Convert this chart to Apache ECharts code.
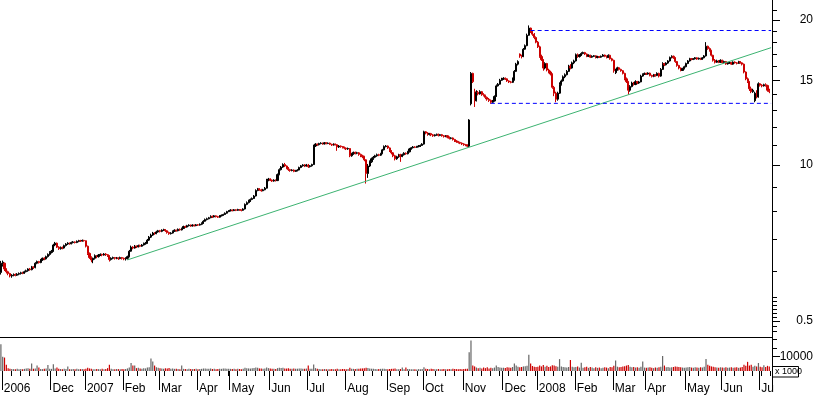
<!DOCTYPE html>
<html><head><meta charset="utf-8">
<script src="https://cdn.jsdelivr.net/npm/echarts@6/dist/echarts.min.js"></script>
<style>html,body{margin:0;padding:0;background:#fff}#c{width:817px;height:395px}</style>
</head><body><div id="c"></div>
<script>
// ---- axis labels / ticks ----
const monthLabels = ['2006','Dec','2007','Feb','Mar','Apr','May','Jun','Jul','Aug','Sep','Oct','Nov','Dec','2008','Feb','Mar','Apr','May','Jun','Ju'];
const monthStart  = [1,28,47,68,88,109,127,149,170,191,214,234,256,278,297,318,339,357,379,399,420];
const priceTicksMajor = [20, 15, 10, 4.743];
const priceTicksMinor = [21,19,18,17,16,14,13,12,11,9,8,7,6,5.318,5.218,5.119,5.022,4.927,4.834,4.631,4.521];
const priceMin = 4.391, priceMax = 22.02;
const volTicksMajor = [10000];
const volTicksMinor = [16000, 21900];
const volMax = 23750;
// ---- drawn lines: [day index, price] ----
const trendLine  = [[70, 6.35], [426, 17.53]];
const resistance = [[293, 19.03], [426, 19.03]];
const support    = [[271, 13.43], [426, 13.43]];

// ---- daily candles [open, close, low, high] ----
const ohlc2006a = [[5.98,6.25,5.92,6.32],[6.22,6.28,6.15,6.33],[6.25,6.08,6.02,6.27],[6.08,6.00,5.95,6.10],[6.00,5.95,5.90,6.03],[5.95,5.88,5.84,5.97],[5.88,5.90,5.83,5.93],[5.90,5.92,5.87,5.95],[5.92,5.90,5.87,5.95],[5.90,5.93,5.88,5.96],[5.93,5.95,5.90,5.98],[5.95,5.97,5.92,6.00],[5.97,5.96,5.93,6.00],[5.96,6.00,5.94,6.03],[6.00,6.03,5.98,6.06],[6.03,6.08,6.00,6.10],[6.08,6.06,6.03,6.11],[6.06,6.14,6.04,6.17],[6.14,6.12,6.08,6.16],[6.12,6.25,6.10,6.28],[6.25,6.30,6.22,6.33],[6.30,6.27,6.24,6.32],[6.27,6.35,6.25,6.38],[6.35,6.40,6.32,6.42],[6.40,6.38,6.34,6.43],[6.38,6.45,6.36,6.48],[6.45,6.52,6.42,6.55],[6.52,6.58,6.48,6.62]];
const ohlc2006b = [[6.58,6.62,6.55,6.66],[6.62,6.82,6.60,6.86],[6.82,6.88,6.78,6.92],[6.88,6.75,6.72,6.90],[6.75,6.70,6.66,6.78],[6.70,6.74,6.67,6.77],[6.74,6.72,6.68,6.77],[6.72,6.80,6.70,6.83],[6.80,6.85,6.77,6.88],[6.85,6.88,6.82,6.91],[6.88,6.86,6.83,6.90],[6.86,6.90,6.84,6.93],[6.90,6.92,6.87,6.95],[6.92,6.90,6.87,6.94],[6.90,6.94,6.88,6.97],[6.94,6.96,6.91,6.99],[6.96,6.95,6.92,6.99],[6.95,6.97,6.93,7.00],[6.97,6.96,6.93,6.99]];
const ohlc2007a = [[6.96,6.78,6.74,6.97],[6.78,6.55,6.50,6.80],[6.55,6.42,6.38,6.58],[6.42,6.35,6.28,6.46],[6.35,6.40,6.25,6.42],[6.40,6.48,6.36,6.52],[6.48,6.45,6.40,6.50],[6.45,6.50,6.42,6.53],[6.50,6.52,6.47,6.55],[6.52,6.50,6.46,6.54],[6.50,6.53,6.48,6.56],[6.53,6.51,6.47,6.56],[6.51,6.48,6.44,6.53],[6.48,6.36,6.30,6.50],[6.36,6.40,6.33,6.43],[6.40,6.42,6.37,6.45],[6.42,6.40,6.36,6.44],[6.40,6.41,6.37,6.44],[6.41,6.39,6.35,6.43],[6.39,6.42,6.37,6.45],[6.42,6.40,6.36,6.44]];
const ohlc2007b = [[6.40,6.38,6.34,6.42],[6.38,6.40,6.33,6.43],[6.40,6.45,6.36,6.48],[6.45,6.62,6.43,6.66],[6.62,6.75,6.60,6.80],[6.75,6.72,6.68,6.78],[6.72,6.78,6.70,6.82],[6.78,6.76,6.72,6.80],[6.76,6.80,6.74,6.83],[6.80,6.78,6.75,6.83],[6.78,6.82,6.76,6.85],[6.82,6.86,6.80,6.90],[6.86,6.88,6.83,6.92],[6.88,6.98,6.86,7.02],[6.98,7.08,6.95,7.12],[7.08,7.15,7.05,7.20],[7.15,7.22,7.12,7.26],[7.22,7.20,7.16,7.25],[7.20,7.26,7.18,7.30],[7.26,7.30,7.23,7.33]];
const ohlc2007c = [[7.30,7.28,7.24,7.33],[7.28,7.32,7.25,7.35],[7.32,7.34,7.29,7.37],[7.34,7.30,7.26,7.36],[7.30,7.24,7.20,7.32],[7.24,7.20,7.16,7.27],[7.20,7.22,7.17,7.25],[7.22,7.28,7.20,7.31],[7.28,7.32,7.26,7.35],[7.32,7.30,7.27,7.34],[7.30,7.35,7.28,7.38],[7.35,7.33,7.30,7.38],[7.33,7.38,7.31,7.41],[7.38,7.45,7.36,7.48],[7.45,7.43,7.40,7.48],[7.43,7.48,7.41,7.51],[7.48,7.50,7.45,7.53],[7.50,7.47,7.44,7.52],[7.47,7.50,7.45,7.53],[7.50,7.48,7.45,7.52],[7.48,7.51,7.46,7.54]];
const ohlc2007d = [[7.51,7.50,7.47,7.54],[7.50,7.53,7.48,7.56],[7.53,7.56,7.50,7.60],[7.56,7.64,7.54,7.68],[7.64,7.70,7.62,7.74],[7.70,7.73,7.67,7.77],[7.73,7.77,7.71,7.80],[7.77,7.82,7.75,7.86],[7.82,7.80,7.76,7.85],[7.80,7.84,7.78,7.87],[7.84,7.81,7.78,7.86],[7.81,7.79,7.76,7.84],[7.79,7.84,7.77,7.87],[7.84,7.86,7.82,7.89],[7.86,7.89,7.84,7.92],[7.89,7.94,7.87,7.97],[7.94,8.00,7.92,8.03],[8.00,8.03,7.98,8.06]];
const ohlc2007e = [[8.03,8.06,8.01,8.09],[8.06,8.04,8.01,8.08],[8.04,8.07,8.02,8.10],[8.07,8.05,8.02,8.09],[8.05,8.08,8.03,8.11],[8.08,8.06,8.03,8.10],[8.06,8.05,8.01,8.08],[8.05,8.10,8.03,8.13],[8.10,8.28,8.08,8.32],[8.28,8.35,8.25,8.40],[8.35,8.42,8.32,8.47],[8.42,8.48,8.38,8.52],[8.48,8.52,8.45,8.56],[8.52,8.62,8.50,8.66],[8.62,8.85,8.60,8.90],[8.85,8.92,8.82,8.96],[8.92,8.88,8.84,8.95],[8.88,8.84,8.80,8.92],[8.84,8.88,8.82,8.92],[8.88,8.95,8.86,9.00],[8.95,9.30,8.93,9.36],[9.30,9.35,9.25,9.40]];
const ohlc2007f = [[9.35,9.30,9.26,9.38],[9.30,9.26,9.22,9.33],[9.26,9.30,9.23,9.34],[9.30,9.28,9.24,9.33],[9.28,9.55,9.26,9.60],[9.55,9.78,9.52,9.84],[9.78,9.90,9.74,9.95],[9.90,10.02,9.86,10.08],[10.02,9.95,9.90,10.10],[9.95,9.85,9.80,9.98],[9.85,9.78,9.72,9.90],[9.78,9.74,9.68,9.82],[9.74,9.76,9.70,9.80],[9.76,9.70,9.66,9.79],[9.70,9.73,9.67,9.77],[9.73,9.76,9.70,9.80],[9.76,9.88,9.74,9.92],[9.88,9.96,9.85,10.00],[9.96,10.00,9.92,10.04],[10.00,9.95,9.90,10.04],[9.95,10.00,9.92,10.05]];
const ohlc2007g = [[10.00,9.92,9.86,10.05],[9.92,9.96,9.88,10.00],[9.96,10.02,9.92,10.06],[10.02,10.95,10.00,11.02],[10.95,11.05,10.90,11.10],[11.05,11.02,10.96,11.08],[11.02,11.08,10.98,11.12],[11.08,11.10,11.04,11.15],[11.10,11.06,11.02,11.13],[11.06,11.12,11.03,11.16],[11.12,11.08,11.04,11.15],[11.08,11.10,11.05,11.14],[11.10,11.04,11.00,11.13],[11.04,11.00,10.95,11.07],[11.00,11.05,10.97,11.09],[11.05,11.02,10.98,11.08],[11.02,10.90,10.70,11.05],[10.90,10.95,10.85,11.00],[10.95,10.92,10.86,10.98],[10.92,10.88,10.82,10.95],[10.88,10.84,10.78,10.92]];
const ohlc2007h = [[10.84,10.80,10.74,10.88],[10.80,10.82,10.75,10.87],[10.82,10.45,10.38,10.84],[10.45,10.55,10.40,10.60],[10.55,10.62,10.50,10.66],[10.62,10.58,10.52,10.66],[10.58,10.60,10.53,10.65],[10.60,10.52,10.45,10.64],[10.52,10.45,10.38,10.56],[10.45,10.40,10.33,10.50],[10.40,10.25,10.18,10.45],[10.25,9.60,9.15,10.28],[9.60,9.95,9.40,10.05],[9.95,10.15,9.90,10.22],[10.15,10.30,10.10,10.36],[10.30,10.38,10.25,10.44],[10.38,10.45,10.33,10.50],[10.45,10.50,10.40,10.56],[10.50,10.48,10.43,10.55],[10.48,10.56,10.44,10.60],[10.56,10.75,10.53,10.80],[10.75,10.92,10.72,10.98],[10.92,10.95,10.88,11.00]];
const ohlc2007i = [[10.95,10.85,10.80,10.98],[10.85,10.70,10.64,10.88],[10.70,10.60,10.52,10.74],[10.60,10.45,10.38,10.64],[10.45,10.30,10.22,10.50],[10.30,10.40,10.25,10.45],[10.40,10.50,10.35,10.55],[10.50,10.42,10.15,10.55],[10.42,10.50,10.38,10.56],[10.50,10.58,10.46,10.63],[10.58,10.55,10.50,10.62],[10.55,10.65,10.52,10.70],[10.65,10.80,10.62,10.85],[10.80,10.86,10.76,10.90],[10.86,10.90,10.82,10.95],[10.90,10.88,10.84,10.94],[10.88,10.92,10.85,10.96],[10.92,10.95,10.88,11.00],[10.95,10.98,10.90,11.03],[10.98,11.05,10.95,11.10]];
const ohlc2007j = [[11.05,11.72,11.02,11.78],[11.72,11.65,11.58,11.76],[11.65,11.58,11.50,11.70],[11.58,11.62,11.52,11.66],[11.62,11.55,11.48,11.66],[11.55,11.50,11.44,11.60],[11.50,11.55,11.46,11.58],[11.55,11.58,11.50,11.62],[11.58,11.52,11.46,11.62],[11.52,11.56,11.48,11.60],[11.56,11.50,11.45,11.60],[11.50,11.46,11.40,11.54],[11.46,11.50,11.42,11.54],[11.50,11.42,11.36,11.53],[11.42,11.36,11.30,11.46],[11.36,11.38,11.31,11.42],[11.38,11.30,11.24,11.41],[11.30,11.22,11.16,11.33],[11.22,11.18,11.12,11.26],[11.18,11.14,11.08,11.22],[11.14,11.10,11.05,11.18],[11.10,11.06,11.00,11.14]];
const ohlc2007k = [[11.06,11.02,10.96,11.10],[11.02,11.00,10.94,11.06],[11.00,10.94,10.88,11.04],[10.94,12.40,10.90,12.45],[13.40,15.50,13.30,15.60],[15.50,14.90,14.80,15.55],[14.20,13.60,13.20,14.40],[13.60,14.15,13.55,14.30],[14.15,14.05,13.95,14.25],[14.05,14.20,14.00,14.30],[14.20,14.00,13.92,14.25],[14.00,13.95,13.88,14.10],[13.95,13.82,13.70,14.00],[13.82,13.70,13.60,13.88],[13.70,13.62,13.52,13.78],[13.62,13.50,13.40,13.68],[13.50,13.58,13.45,13.65],[13.58,13.88,13.55,13.95],[13.88,14.60,13.85,14.70],[14.60,14.72,14.55,14.80],[14.72,15.00,14.68,15.10],[15.00,15.08,14.95,15.18]];
const ohlc2007l = [[15.08,15.14,15.02,15.22],[15.14,15.10,15.02,15.20],[15.10,14.95,14.88,15.14],[14.95,14.88,14.80,15.00],[14.88,14.85,14.78,14.95],[14.85,15.00,14.80,15.20],[15.00,15.65,14.98,15.75],[15.65,16.20,15.60,16.30],[16.20,16.40,16.10,16.50],[17.00,16.85,16.70,17.05],[16.85,16.80,16.65,16.95],[16.80,17.40,16.75,17.50],[17.40,17.70,17.35,17.80],[17.70,18.60,17.65,18.75],[18.60,19.25,18.55,19.50],[19.25,18.90,18.80,19.30],[18.90,18.70,18.55,19.05],[18.70,18.40,18.25,18.80],[18.40,18.00,17.90,18.50]];
const ohlc2008a = [[18.00,17.60,17.50,18.10],[17.60,16.80,16.70,17.70],[16.80,16.55,16.45,16.95],[16.55,15.90,15.70,16.60],[15.90,16.25,15.80,16.35],[16.25,15.75,15.65,16.30],[15.75,15.60,15.50,15.85],[15.60,15.45,15.35,15.70],[15.45,14.50,14.40,15.50],[14.50,14.10,13.90,14.60],[14.10,13.70,13.50,14.20],[13.70,14.10,13.60,14.20],[14.10,14.70,14.05,14.85],[14.70,14.95,14.62,15.05],[14.95,15.25,14.90,15.35],[15.25,15.40,15.15,15.50],[15.40,15.65,15.35,15.75],[15.65,16.05,15.60,16.15],[16.05,15.90,15.80,16.20],[15.90,16.30,15.85,16.40],[16.30,16.45,16.20,16.55]];
const ohlc2008b = [[16.45,16.95,16.40,17.05],[16.95,16.80,16.70,17.05],[16.80,16.92,16.72,17.00],[16.92,17.05,16.85,17.15],[17.05,17.12,16.98,17.20],[17.12,17.00,16.92,17.18],[17.00,16.82,16.75,17.05],[16.82,16.90,16.76,16.98],[16.90,16.75,16.68,16.95],[16.75,16.82,16.70,16.90],[16.82,16.86,16.76,16.92],[16.86,16.72,16.65,16.90],[16.72,16.80,16.66,16.86],[16.80,16.75,16.68,16.85],[16.75,16.82,16.70,16.88],[16.82,16.92,16.78,17.00],[16.92,16.82,16.75,16.96],[16.82,16.72,16.65,16.88],[16.72,16.90,16.68,16.98],[16.90,16.62,16.55,16.95],[16.62,16.50,16.42,16.70]];
const ohlc2008c = [[16.50,15.70,15.55,16.55],[15.55,15.75,15.45,15.85],[15.75,15.92,15.70,16.00],[15.92,15.80,15.72,15.98],[15.80,15.70,15.62,15.85],[15.70,15.50,15.42,15.75],[15.50,15.10,15.00,15.55],[15.10,14.90,14.80,15.20],[14.90,14.30,14.00,14.95],[14.30,14.55,14.20,14.65],[14.55,14.80,14.50,14.90],[14.80,14.70,14.62,14.88],[14.70,14.90,14.65,15.00],[14.90,14.80,14.72,14.95],[14.80,14.88,14.74,14.95],[14.88,15.30,14.85,15.40],[15.30,15.42,15.25,15.50],[15.42,15.50,15.38,15.56]];
const ohlc2008d = [[15.50,15.45,15.38,15.55],[15.45,15.52,15.40,15.58],[15.52,15.35,15.28,15.56],[15.35,15.28,15.20,15.40],[15.28,15.40,15.22,15.46],[15.40,15.34,15.26,15.45],[15.34,15.50,15.30,15.58],[15.50,15.30,15.20,15.55],[15.30,15.80,15.25,15.90],[15.80,16.25,15.75,16.35],[16.25,16.15,16.05,16.30],[16.15,16.28,16.10,16.35],[16.28,16.45,16.22,16.52],[16.45,16.72,16.40,16.80],[16.72,16.82,16.65,16.90],[16.82,16.70,16.62,16.88],[16.70,16.40,16.30,16.75],[16.40,16.10,16.00,16.45],[16.10,15.90,15.80,16.15],[15.90,15.72,15.65,15.95],[15.72,15.85,15.68,15.92],[15.85,16.00,15.80,16.08]];
const ohlc2008e = [[16.00,16.25,15.95,16.32],[16.25,16.45,16.20,16.52],[16.45,16.62,16.40,16.70],[16.62,16.58,16.50,16.68],[16.58,16.62,16.52,16.68],[16.62,16.70,16.56,16.76],[16.70,16.60,16.54,16.74],[16.60,16.66,16.55,16.72],[16.66,16.58,16.52,16.70],[16.58,16.70,16.54,16.76],[16.70,16.85,16.65,16.92],[16.85,17.65,16.80,18.00],[17.65,17.45,17.35,17.70],[17.45,17.30,17.20,17.55],[17.30,16.90,16.80,17.35],[16.90,16.50,16.40,16.95],[16.50,16.35,16.25,16.60],[16.35,16.45,16.30,16.55],[16.45,16.35,16.28,16.52],[16.35,16.50,16.30,16.58]];
const ohlc2008f = [[16.50,16.32,16.25,16.55],[16.32,16.40,16.26,16.48],[16.40,16.22,16.15,16.45],[16.22,16.28,16.16,16.35],[16.28,16.32,16.22,16.40],[16.32,16.20,16.14,16.38],[16.20,16.36,16.15,16.42],[16.36,16.30,16.24,16.42],[16.30,16.26,16.18,16.36],[16.26,16.40,16.22,16.46],[16.40,16.30,16.24,16.44],[16.30,16.20,16.10,16.35],[16.20,15.60,15.50,16.25],[15.60,15.10,15.00,15.65],[15.10,14.90,14.80,15.20],[14.90,14.40,14.25,14.95],[14.40,14.20,14.10,14.55],[14.20,14.30,14.12,14.40],[13.60,14.10,13.50,14.20],[14.10,13.85,13.75,14.30],[13.85,14.75,13.80,14.85]];
const ohlc2008g = [[14.75,14.65,14.55,14.80],[14.65,14.60,14.50,14.72],[14.60,14.68,14.55,14.75],[14.68,14.62,14.55,14.78],[14.62,14.30,14.20,14.68],[14.30,14.20,14.10,14.40]];

// ---- daily volume, thousands of shares ----
const vol2006a = [18700,10000,9400,4400,2000,1600,1400,1300,1300,1500,1300,1400,1200,1500,1700,1900,1500,5200,1600,1800,3800,2500,1400,1300,1500,1700,4200,1600];
const vol2006b = [1500,4800,1800,2500,1600,1400,1300,1500,1400,3100,1300,1200,1400,1300,1500,1200,1300,1400,1200];
const vol2007a = [1600,2200,1800,1500,1300,1200,1400,1300,1200,1500,1300,1400,2000,4400,1500,1300,1200,1400,1300,1200,1400];
const vol2007b = [1300,1400,1800,2400,5600,3800,3800,2000,2200,1800,1600,2000,1800,2400,2600,8700,6700,3800,2600,2300];
const vol2007c = [2000,1800,1600,1900,1700,2100,1500,1700,1500,1600,1400,1300,3800,1500,1400,1300,1500,1400,1300,1400,1500];
const vol2007d = [1300,1400,1500,1700,1800,1600,1500,1700,1400,1500,1300,1400,1600,1500,1700,1800,1600,1500];
const vol2007e = [1500,1400,1600,1300,1500,1400,1300,1500,2300,2000,1800,1700,1900,2100,2500,2200,1800,1700,1600,1800,2400,2000];
const vol2007f = [1700,1600,1500,1400,2000,2300,2100,2200,1800,1700,1900,1600,1500,1700,1500,1600,1800,1700,1600,1500,1700];
const vol2007g = [3800,1500,1600,4600,2000,1500,1400,1300,1200,1400,1300,1200,1300,1400,1200,1300,1500,1300,1200,1400,1300];
const vol2007h = [1300,1400,2300,1600,1500,1400,1600,1500,1700,1800,1900,2300,2100,1700,1600,1500,1400,1300,1400,1500,1600,1500,1400];
const vol2007i = [1300,1400,1500,1600,1700,1300,1200,1400,2500,1200,2400,1400,1300,1200,1300,1200,1100,1300,1200,1400];
const vol2007j = [2600,1500,1400,1300,1500,1400,1300,1200,1400,1300,1200,1400,1300,1200,1400,1300,1500,1400,1300,1200,1400,1300];
const vol2007k = [1400,1500,1600,13100,21250,3800,3200,2500,2000,2200,1800,2400,2000,2600,1800,2200,2000,2400,3800,2800,2400,2200];
const vol2007l = [2300,2100,2600,2400,2200,2800,5200,3800,3000,2600,2800,3200,3400,3600,11400,5200,3500,3000,2800];
const vol2008a = [3000,3800,3200,4200,3000,3600,2800,3200,4000,3800,3400,3000,8300,3200,2800,2600,2400,2800,7700,3000,2600];
const vol2008b = [2800,3200,2400,5800,2200,2600,3000,2200,2800,2400,2000,2600,2200,2400,2000,2200,2600,2400,2000,2800,2600];
const vol2008c = [3600,7300,3000,2600,2800,3200,3400,3800,4200,3000,2600,2800,2400,2600,2200,3000,6700,2400];
const vol2008d = [2200,2400,2600,2200,2000,2400,2200,2600,3000,10400,3800,2600,2800,2400,2600,2800,3200,3000,2800,2600,2400,2200];
const vol2008e = [2400,2600,2800,2400,2200,2600,2400,2200,2600,2400,3000,8300,4400,3600,3200,3000,2600,2400,2200,2600];
const vol2008f = [2400,2200,2600,2200,2400,2600,2200,2400,2600,2200,2400,2800,4400,3600,6400,3800,4400,3000,3600,3200,5600];
const vol2008g = [3000,2600,4000,2800,3600,3200];

const ohlc = [].concat(ohlc2006a,ohlc2006b,ohlc2007a,ohlc2007b,ohlc2007c,ohlc2007d,ohlc2007e,ohlc2007f,ohlc2007g,ohlc2007h,ohlc2007i,ohlc2007j,ohlc2007k,ohlc2007l,ohlc2008a,ohlc2008b,ohlc2008c,ohlc2008d,ohlc2008e,ohlc2008f,ohlc2008g);
const volume = [].concat(vol2006a,vol2006b,vol2007a,vol2007b,vol2007c,vol2007d,vol2007e,vol2007f,vol2007g,vol2007h,vol2007i,vol2007j,vol2007k,vol2007l,vol2008a,vol2008b,vol2008c,vol2008d,vol2008e,vol2008f,vol2008g);

const nCat = ohlc.length + 1; // one empty slot at the right edge
const cats = [];
for (let i = 0; i < nCat; i++) cats.push('d' + i);
const labelAt = {};
monthStart.forEach((s, k) => { labelAt[s] = monthLabels[k]; });

const RED = '#cc0000', GREY = '#666666';
const FONT = 'Liberation Sans, Arial, sans-serif';
const L10 = Math.log10;

const chart = echarts.init(document.getElementById('c'), null, {renderer: 'canvas'});
chart.setOption({
  animation: false,
  backgroundColor: '#fff',
  grid: [
    {left: 0, right: 45, top: 0, height: 337},
    {left: 0, right: 45, top: 337, height: 38}
  ],
  xAxis: [
    {type: 'category', gridIndex: 0, data: cats, boundaryGap: true, position: 'bottom',
     axisLine: {show: true, onZero: false, lineStyle: {color: '#000', width: 1}},
     axisTick: {show: false}, axisLabel: {show: false}, splitLine: {show: false}},
    {type: 'category', gridIndex: 1, data: cats, boundaryGap: true, position: 'bottom',
     axisLine: {show: false, onZero: false},
     axisTick: {show: true, length: 19, lineStyle: {color: '#000'}, interval: (i) => labelAt[i] !== undefined},
     axisLabel: {show: true, interval: (i) => labelAt[i] !== undefined, formatter: (v, i) => labelAt[i] || '',
                 align: 'left', margin: 12, color: '#000', fontSize: 12, fontFamily: FONT, padding: [0,0,0,1]},
     splitLine: {show: false}},
    {type: 'category', gridIndex: 1, data: cats, boundaryGap: true, position: 'bottom',
     axisLine: {show: false, onZero: false},
     axisTick: {show: true, length: 5, lineStyle: {color: '#000'}, interval: (i) => i % 5 === 1},
     axisLabel: {show: false}, splitLine: {show: false}}
  ],
  yAxis: [
    {type: 'log', gridIndex: 0, logBase: 10, min: priceMin, max: priceMax, position: 'right', show: false},
    {type: 'value', gridIndex: 0, min: L10(priceMin), max: L10(priceMax), position: 'right',
     axisLine: {show: true, lineStyle: {color: '#000'}},
     axisTick: {show: true, length: 8, lineStyle: {color: '#000'}, customValues: priceTicksMajor.map(L10)},
     axisLabel: {show: true, customValues: priceTicksMajor.map(L10), align: 'right', margin: 41,
                 color: '#000', fontSize: 12, fontFamily: FONT,
                 formatter: (v) => { const p = Math.pow(10, v); return p < 5 ? '0.5' : String(Math.round(p)); }},
     splitLine: {show: false}},
    {type: 'value', gridIndex: 0, min: L10(priceMin), max: L10(priceMax), position: 'right',
     axisLine: {show: false},
     axisTick: {show: true, length: 5, lineStyle: {color: '#000'}, customValues: priceTicksMinor.map(L10)},
     axisLabel: {show: false}, splitLine: {show: false}},
    {type: 'value', gridIndex: 1, min: 0, max: volMax, position: 'right',
     axisLine: {show: true, lineStyle: {color: '#000'}},
     axisTick: {show: true, length: 8, lineStyle: {color: '#000'}, customValues: volTicksMajor},
     axisLabel: {show: true, customValues: volTicksMajor, align: 'right', margin: 41,
                 color: '#000', fontSize: 12, fontFamily: FONT, formatter: (v) => String(Math.round(v))},
     splitLine: {show: false}},
    {type: 'value', gridIndex: 1, min: 0, max: volMax, position: 'right',
     axisLine: {show: false},
     axisTick: {show: true, length: 5, lineStyle: {color: '#000'}, customValues: volTicksMinor},
     axisLabel: {show: false}, splitLine: {show: false}}
  ],
  series: [
    {type: 'candlestick', xAxisIndex: 0, yAxisIndex: 0, data: ohlc, barWidth: 1.6,
     itemStyle: {color: '#000', color0: RED, borderColor: '#000', borderColor0: RED, borderWidth: 1}},
    {type: 'line', xAxisIndex: 0, yAxisIndex: 0, data: trendLine, symbol: 'none', silent: true,
     lineStyle: {color: '#3cb371', width: 1}},
    {type: 'line', xAxisIndex: 0, yAxisIndex: 0, data: resistance, symbol: 'none', silent: true,
     lineStyle: {color: '#0000ff', width: 1, type: [4, 3]}},
    {type: 'line', xAxisIndex: 0, yAxisIndex: 0, data: support, symbol: 'none', silent: true,
     lineStyle: {color: '#0000ff', width: 1, type: [4, 3]}},
    {type: 'bar', xAxisIndex: 1, yAxisIndex: 3, data: volume, barWidth: 1.2,
     itemStyle: {color: (p) => (ohlc[p.dataIndex][1] >= ohlc[p.dataIndex][0] ? GREY : RED)}}
  ],
  graphic: [
    {type: 'rect', shape: {x: 772.5, y: 366.5, width: 26, height: 10.5},
     style: {fill: '#fff', stroke: '#000', lineWidth: 1}},
    {type: 'text', x: 775, y: 367.5,
     style: {text: 'x 1000', font: '9px Liberation Sans', fill: '#000'}}
  ]
});
</script></body></html>
